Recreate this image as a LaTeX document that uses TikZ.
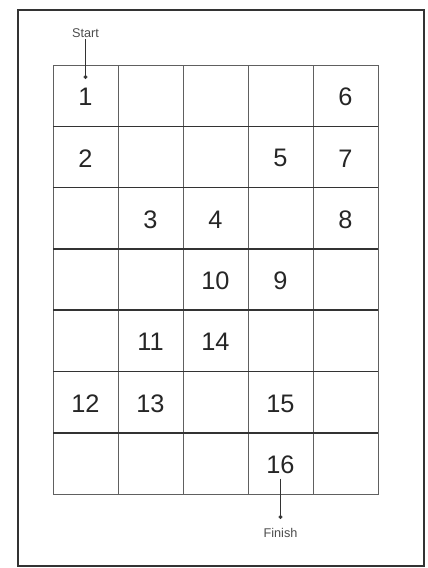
\documentclass[tikz,border=0pt]{standalone}
\usepackage{fontspec}
\setmainfont{Liberation Sans}
\begin{document}
\begin{tikzpicture}[x=0.75pt, y=-0.75pt,
    cell/.style={draw=gray!75!black, line width=0.7pt, minimum width=48.75pt, minimum height=45.98pt, inner sep=0pt, outer sep=0pt},
    hline/.style={black!80, line width=1.2pt},
    num/.style={font=\fontsize{19}{19}\selectfont, text=black!85},
    tag/.style={font=\fontsize{9.5}{10}\selectfont, text=black!70, inner sep=1pt},
    pin/.style={draw=black!80, fill=black!80, circle, inner sep=0pt, minimum size=2.6pt}]
    \useasboundingbox (0,0) rectangle (428,568);
    \draw[black!80, line width=2.2pt] (18,10) rectangle (424,566);
    % grid of cells
    \foreach \r in {0,...,6}
        \foreach \c in {0,...,4}
            \node[cell] (c\r\c) at (85.5+65*\c, 95.7+61.3*\r) {};
    \foreach \r in {1,...,6} \draw[hline] (c\r0.north west) -- (c\r4.north east);
    % numbered cells
    \foreach \r/\c/\n in {0/0/1, 0/4/6, 1/0/2, 1/3/5, 1/4/7, 2/1/3, 2/2/4, 2/4/8,
                          3/2/10, 3/3/9, 4/1/11, 4/2/14, 5/0/12, 5/1/13, 5/3/15, 6/3/16}
        \node[num] (n\n) at ([yshift=-1pt]c\r\c) {\n};
    % start and finish
    \node[tag] (start) at (85.5,33) {Start};
    \node[pin] (sdot) at (85.5,77) {};
    \draw[black!80, line width=0.7pt] (start.south) -- (sdot);
    \node[pin] (fdot) at (n16.south |- 0,517) {};
    \node[tag] (finish) at (n16.south |- 0,533) {Finish};
    \draw[black!80, line width=0.7pt] (n16.south) -- (fdot);
\end{tikzpicture}
\end{document}
